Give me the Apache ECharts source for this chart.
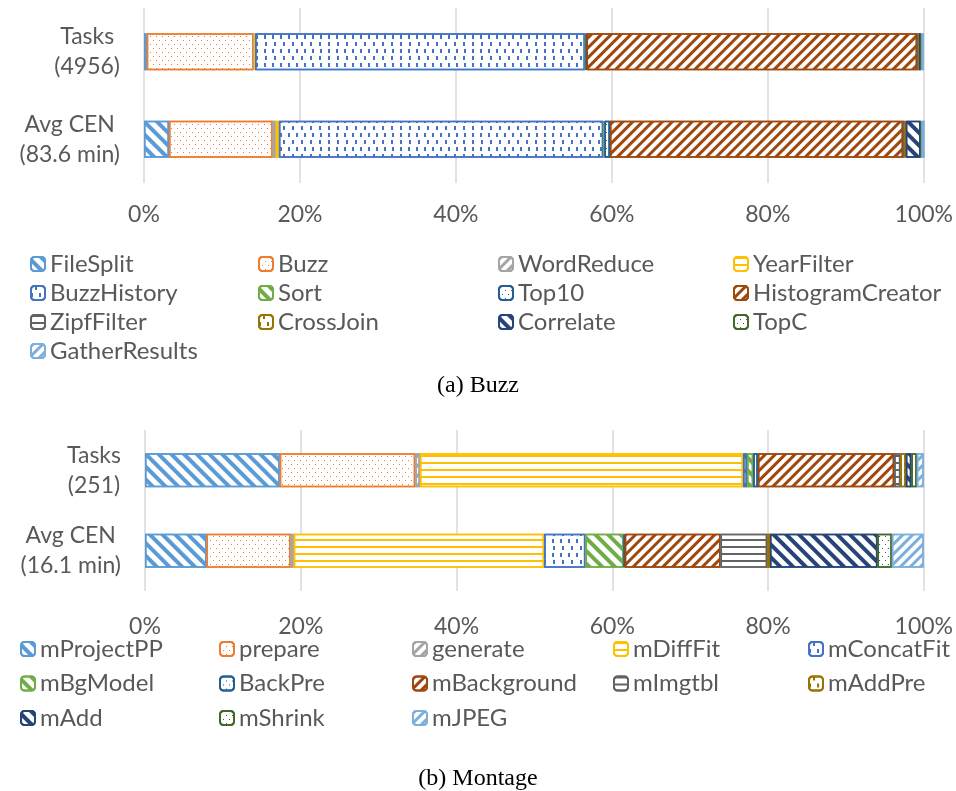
<!DOCTYPE html>
<html>
<head>
<meta charset="utf-8">
<script src="https://cdn.jsdelivr.net/npm/echarts@6/dist/echarts.min.js"></script>
<style>
html, body { margin: 0; padding: 0; background: #fff; }
#main { width: 956px; height: 791px; }
</style>
</head>
<body>
<div id="main"></div>
<script>
// rows of each panel (top to bottom)
var buzzRows = ['Tasks\n(4956)', 'Avg CEN\n(83.6 min)'];
var montageRows = ['Tasks\n(251)', 'Avg CEN\n(16.1 min)'];

// (a) Buzz - share of each stage, in %
var buzzNames = ['FileSplit', 'Buzz', 'WordReduce', 'YearFilter', 'BuzzHistory', 'Sort', 'Top10',
    'HistogramCreator', 'ZipfFilter', 'CrossJoin', 'Correlate', 'TopC', 'GatherResults'];
var buzzTasks = [0.35, 13.7, 0.05, 0.15, 42.3, 0.15, 0.05, 42.4, 0.2, 0.05, 0.2, 0.1, 0.3];
var buzzCen = [3.2, 13.3, 0.4, 0.4, 41.6, 0.15, 0.7, 37.6, 0.2, 0.15, 1.9, 0.1, 0.4];

// (b) Montage
var montageNames = ['mProjectPP', 'prepare', 'generate', 'mDiffFit', 'mConcatFit', 'mBgModel', 'BackPre',
    'mBackground', 'mImgtbl', 'mAddPre', 'mAdd', 'mShrink', 'mJPEG'];
var montageTasks = [17.3, 17.4, 0.6, 41.5, 0.5, 0.8, 0.6, 17.5, 0.8, 0.7, 0.7, 0.7, 0.9];
var montageCen = [7.9, 10.8, 0.4, 32.15, 5.3, 4.9, 0.15, 12.3, 6.0, 0.35, 13.8, 1.85, 4.1];

var colors = ['#5B9BD5', '#ED7D31', '#A5A5A5', '#FFC000', '#4472C4', '#70AD47', '#255E91',
    '#9E480E', '#636363', '#997300', '#264478', '#43682B', '#7CAFDD'];
var patterns = ['down', 'dots', 'up', 'hline', 'vdash', 'down', 'dots', 'up', 'hline', 'vdash', 'down', 'dots', 'up'];

var textColor = '#595959';
var font = 'Lato';
var fs = 23;

function decalFor(p, c) {
    if (p === 'down') return {symbol: 'rect', symbolSize: 1, color: c, dashArrayX: [1, 0], dashArrayY: [3.5, 4.5], rotation: Math.PI / 4};
    if (p === 'up') return {symbol: 'rect', symbolSize: 1, color: c, dashArrayX: [1, 0], dashArrayY: [2.5, 4], rotation: -Math.PI / 4};
    if (p === 'hline') return {symbol: 'rect', symbolSize: 1, color: c, dashArrayX: [1, 0], dashArrayY: [1.5, 5]};
    if (p === 'vdash') return {symbol: 'rect', symbolSize: 1, color: c, dashArrayX: [[1.5, 6], [0, 3.5, 1.5, 2.5]], dashArrayY: [4, 3]};
    return {symbol: 'rect', symbolSize: 1, color: c, dashArrayX: [[1, 5], [0, 3, 1, 2]], dashArrayY: [1, 2.5]};
}

function makeSeries(names, a, b, idx, stack, bw) {
    return names.map(function (n, i) {
        return {
            name: n,
            type: 'bar',
            stack: stack,
            xAxisIndex: idx,
            yAxisIndex: idx,
            barWidth: bw,
            data: [a[i], b[i]],
            itemStyle: {
                color: '#fff',
                borderColor: colors[i],
                borderWidth: 1.5,
                decal: decalFor(patterns[i], colors[i])
            }
        };
    });
}

function richLabel(v) {
    return v.split('\n').map(function (s) { return '{c|' + s + '}'; }).join('\n');
}

function legendCol(names, left, top, gap) {
    return {
        orient: 'vertical',
        left: left,
        top: top,
        padding: 0,
        data: names,
        itemWidth: 14,
        itemHeight: 14,
        itemGap: gap,
        selectedMode: false,
        textStyle: {fontFamily: font, fontSize: 24, color: textColor, lineHeight: 24}
    };
}

function xAxisFor(idx, margin) {
    return {
        type: 'value',
        gridIndex: idx,
        min: 0,
        max: 100,
        interval: 20,
        axisLine: {show: false},
        axisTick: {show: false},
        splitLine: {lineStyle: {color: '#d9d9d9', width: 1.5}},
        axisLabel: {formatter: '{value}%', fontFamily: font, fontSize: fs, color: textColor, margin: margin}
    };
}

function yAxisFor(rows, idx) {
    return {
        type: 'category',
        gridIndex: idx,
        inverse: true,
        data: rows,
        axisLine: {show: false},
        axisTick: {show: false},
        axisLabel: {
            margin: 24,
            formatter: richLabel,
            rich: {c: {align: 'center', fontFamily: font, fontSize: fs, color: textColor, lineHeight: 30}}
        }
    };
}

var chart = echarts.init(document.getElementById('main'));

var legends = [
    legendCol(['FileSplit', 'BuzzHistory', 'ZipfFilter', 'GatherResults'], 30, 252, 5),
    legendCol(['Buzz', 'Sort', 'CrossJoin'], 258, 252, 5),
    legendCol(['WordReduce', 'Top10', 'Correlate'], 498, 252, 5),
    legendCol(['YearFilter', 'HistogramCreator', 'TopC'], 733, 252, 5),
    legendCol(['mProjectPP', 'mBgModel', 'mAdd'], 20, 637, 10.5),
    legendCol(['prepare', 'BackPre', 'mShrink'], 219, 637, 10.5),
    legendCol(['generate', 'mBackground', 'mJPEG'], 412, 637, 10.5),
    legendCol(['mDiffFit', 'mImgtbl'], 613, 637, 10.5),
    legendCol(['mConcatFit', 'mAddPre'], 808, 637, 10.5)
];

var option = {
    backgroundColor: '#fff',
    animation: false,
    title: [
        {text: '(a) Buzz', left: 'center', top: 369,
            textStyle: {fontFamily: 'Liberation Serif', fontSize: 24, fontWeight: 'normal', color: '#000'}},
        {text: '(b) Montage', left: 'center', top: 762,
            textStyle: {fontFamily: 'Liberation Serif', fontSize: 24, fontWeight: 'normal', color: '#000'}}
    ],
    legend: legends,
    grid: [
        {left: 144, right: 32, top: 8, height: 175},
        {left: 145, right: 32, top: 430, height: 161}
    ],
    xAxis: [xAxisFor(0, 20), xAxisFor(1, 24)],
    yAxis: [yAxisFor(buzzRows, 0), yAxisFor(montageRows, 1)],
    series: makeSeries(buzzNames, buzzTasks, buzzCen, 0, 'buzz', 37)
        .concat(makeSeries(montageNames, montageTasks, montageCen, 1, 'montage', 34))
};

chart.setOption(option);
</script>
</body>
</html>
